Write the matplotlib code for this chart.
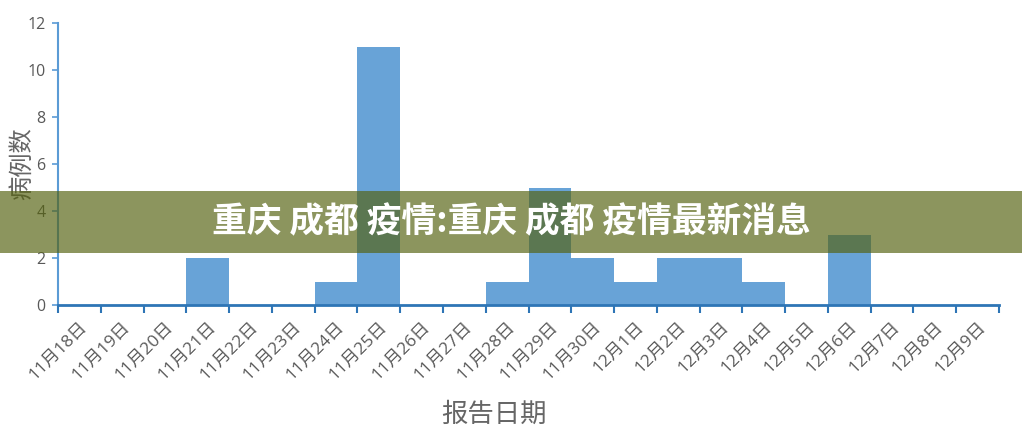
import matplotlib
matplotlib.use('Agg')
import matplotlib.pyplot as plt
from matplotlib.patches import Rectangle

plt.rcParams['font.family'] = ['Noto Sans CJK SC', 'DejaVu Sans']

# 数据
日期 = ['11月18日', '11月19日', '11月20日', '11月21日', '11月22日', '11月23日',
      '11月24日', '11月25日', '11月26日', '11月27日', '11月28日', '11月29日',
      '11月30日', '12月1日', '12月2日', '12月3日', '12月4日', '12月5日',
      '12月6日', '12月7日', '12月8日', '12月9日']
病例数 = [0, 0, 0, 2, 0, 0, 1, 11, 0, 0, 1, 5, 2, 1, 2, 2, 1, 0, 3, 0, 0, 0]
y刻度 = [0, 2, 4, 6, 8, 10, 12]
标题 = '重庆 成都 疫情:重庆 成都 疫情最新消息'

刻度字体 = ['Open Sans', 'Noto Sans CJK SC', 'DejaVu Sans']

fig = plt.figure(figsize=(10.22, 4.45), dpi=100)
ax = fig.add_axes([0.0568, 0.3146, 0.9207, 0.6337])

x = list(range(len(日期)))
ax.bar(x, 病例数, width=1.0, color='#68a3d7', zorder=2)

ax.set_xlim(-0.5, len(日期) - 0.5)
ax.set_ylim(0, 12)
ax.set_yticks(y刻度)
ax.set_yticklabels([str(v) for v in y刻度], family=刻度字体)

# 刻度线在分类边界上，标签在中间
ax.set_xticks([i - 0.5 for i in range(len(日期) + 1)])
ax.set_xticklabels([])
ax.set_xticks(x, minor=True)
ax.set_xticklabels(日期, minor=True, rotation=45, ha='right', rotation_mode='anchor',
                   fontsize=12.5, color='#595959', family=刻度字体)
ax.tick_params(axis='x', which='major', direction='out', length=6, width=1.5, color='#2e75b6')
ax.tick_params(axis='x', which='minor', length=0, pad=10)
ax.tick_params(axis='y', direction='out', length=4, width=1.2, color='#5b9bd5',
               labelsize=11.5, labelcolor='#595959', pad=5)

for s in ['top', 'right']:
    ax.spines[s].set_visible(False)
ax.spines['bottom'].set_color('#2e75b6')
ax.spines['bottom'].set_linewidth(2)
ax.spines['left'].set_color('#5b9bd5')
ax.spines['left'].set_linewidth(1.5)

ax.set_xlabel('报告日期', fontsize=19, color='#666666', fontweight='light')
ax.xaxis.set_label_coords(0.463, -0.34)
ax.set_ylabel('病例数', fontsize=17.5, color='#666666', fontweight='light')
ax.yaxis.set_label_coords(-0.025, 0.5)

# 半透明横幅
fig.patches.append(Rectangle((0, 0.4315), 1, 0.139, transform=fig.transFigure,
                             facecolor=(85/255, 98/255, 16/255), alpha=0.675, zorder=5))
fig.text(0.5, 0.501, 标题, ha='center', va='center', fontsize=25, fontweight='bold',
         color='white', zorder=6)

plt.savefig('out.png', dpi=100)
